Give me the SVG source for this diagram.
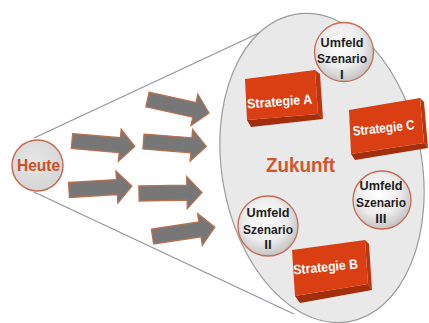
<svg xmlns="http://www.w3.org/2000/svg" width="429" height="323" viewBox="0 0 429 323">
<defs>
<style>
.arrow{fill:#777777;stroke:#b8704f;stroke-width:1.3;stroke-linejoin:miter}
.funnel{stroke:#8e959e;stroke-width:1.2;fill:none}
.scen{stroke:#c66a55;stroke-width:1.3;fill:url(#sg)}
.st{font-family:"Liberation Sans",Arial,sans-serif;font-weight:bold;font-size:13.5px;fill:#1e1e1e;text-anchor:middle}
.bt{font-family:"Liberation Sans",Arial,sans-serif;font-weight:bold;font-size:13.5px;fill:#ffffff;text-anchor:middle}
.front{fill:#da3f14}
.bottom{fill:#a32e0c}
.side{fill:#bb360f}
</style>
<radialGradient id="sg" cx="0.45" cy="0.4" r="0.6">
<stop offset="0" stop-color="#ffffff"/>
<stop offset="0.6" stop-color="#ececec"/>
<stop offset="1" stop-color="#c4c4c4"/>
</radialGradient>
<radialGradient id="hg" cx="0.45" cy="0.4" r="0.65">
<stop offset="0" stop-color="#e6e6e6"/>
<stop offset="1" stop-color="#d4d4d4"/>
</radialGradient>
<path id="arr" d="M0,-7.5 L48,-7.5 L48,-16 L63,0 L48,16 L48,7.5 L0,7.5 Z"/>
</defs>
<rect width="429" height="323" fill="#ffffff"/>
<g id="connectors">
<line class="funnel" x1="34" y1="138" x2="302" y2="13"/>
<line class="funnel" x1="34" y1="192" x2="294" y2="314"/>
</g>
<g id="zukunft">
<ellipse cx="322" cy="168" rx="100" ry="156" transform="rotate(-10 322 168)" fill="#e9e9e9" stroke="#9c9c9c" stroke-width="1.2"/>
<text x="300.5" y="172" font-family="'Liberation Sans',Arial,sans-serif" font-weight="bold" font-size="20" fill="#d4542c" text-anchor="middle" textLength="69" lengthAdjust="spacingAndGlyphs">Zukunft</text>
</g>
<g id="heute">
<circle cx="37.5" cy="165.5" r="25.5" fill="url(#hg)" stroke="#c4674a" stroke-width="1.4"/>
<text x="38.5" y="170.5" font-family="'Liberation Sans',Arial,sans-serif" font-weight="bold" font-size="16" fill="#cc4e28" text-anchor="middle" textLength="43" lengthAdjust="spacingAndGlyphs">Heute</text>
</g>
<g id="arrows">
<use href="#arr" class="arrow" transform="translate(147.5 99.5) rotate(12.5)"/>
<use href="#arr" class="arrow" transform="translate(72 141) rotate(5)"/>
<use href="#arr" class="arrow" transform="translate(143.5 141.5) rotate(4.5)"/>
<use href="#arr" class="arrow" transform="translate(69 190) rotate(-3.5)"/>
<use href="#arr" class="arrow" transform="translate(139 193.5) rotate(-1)"/>
<use href="#arr" class="arrow" transform="translate(152.5 236.5) rotate(-8.5)"/>
</g>
<g id="strategie-a">
<polygon class="side" points="315,70 320,74 323,119 318,114"/>
<polygon class="bottom" points="247,120 318,114 323,119 251,127"/>
<polygon class="front" points="245,79 315,70 318,114 247,120"/>
<text class="bt" x="280" y="106" transform="rotate(-4.5 280 106)" textLength="65" lengthAdjust="spacingAndGlyphs">Strategie  A</text>
</g>
<g id="strategie-c">
<polygon class="side" points="420,98 424,102 428,148 424,143"/>
<polygon class="bottom" points="351,154 424,143 428,148 355,160"/>
<polygon class="front" points="349,110 420,98 424,143 351,154"/>
<text class="bt" x="384" y="132.5" transform="rotate(-6.2 384 132.5)" textLength="62" lengthAdjust="spacingAndGlyphs">Strategie C</text>
</g>
<g id="strategie-b">
<polygon class="side" points="365,240 369,244 372,290 368,284"/>
<polygon class="bottom" points="295,296 368,284 372,290 300,303"/>
<polygon class="front" points="292,250 365,240 368,284 295,296"/>
<text class="bt" x="326" y="271.5" transform="rotate(-5.3 326 271.5)" textLength="65" lengthAdjust="spacingAndGlyphs">Strategie B</text>
</g>
<g id="umfeld-1">
<circle class="scen" cx="344" cy="52" r="29.5"/>
<text class="st" x="342" y="47" textLength="43" lengthAdjust="spacingAndGlyphs">Umfeld</text>
<text class="st" x="342" y="63" textLength="50" lengthAdjust="spacingAndGlyphs">Szenario</text>
<text class="st" x="342" y="79">I</text>
</g>
<g id="umfeld-3">
<circle class="scen" cx="382" cy="200" r="29"/>
<text class="st" x="381" y="190" textLength="43" lengthAdjust="spacingAndGlyphs">Umfeld</text>
<text class="st" x="381" y="207" textLength="50" lengthAdjust="spacingAndGlyphs">Szenario</text>
<text class="st" x="381" y="223">III</text>
</g>
<g id="umfeld-2">
<circle class="scen" cx="268" cy="226" r="30"/>
<text class="st" x="268" y="217" textLength="43" lengthAdjust="spacingAndGlyphs">Umfeld</text>
<text class="st" x="268" y="234" textLength="50" lengthAdjust="spacingAndGlyphs">Szenario</text>
<text class="st" x="268" y="249">II</text>
</g>
</svg>
